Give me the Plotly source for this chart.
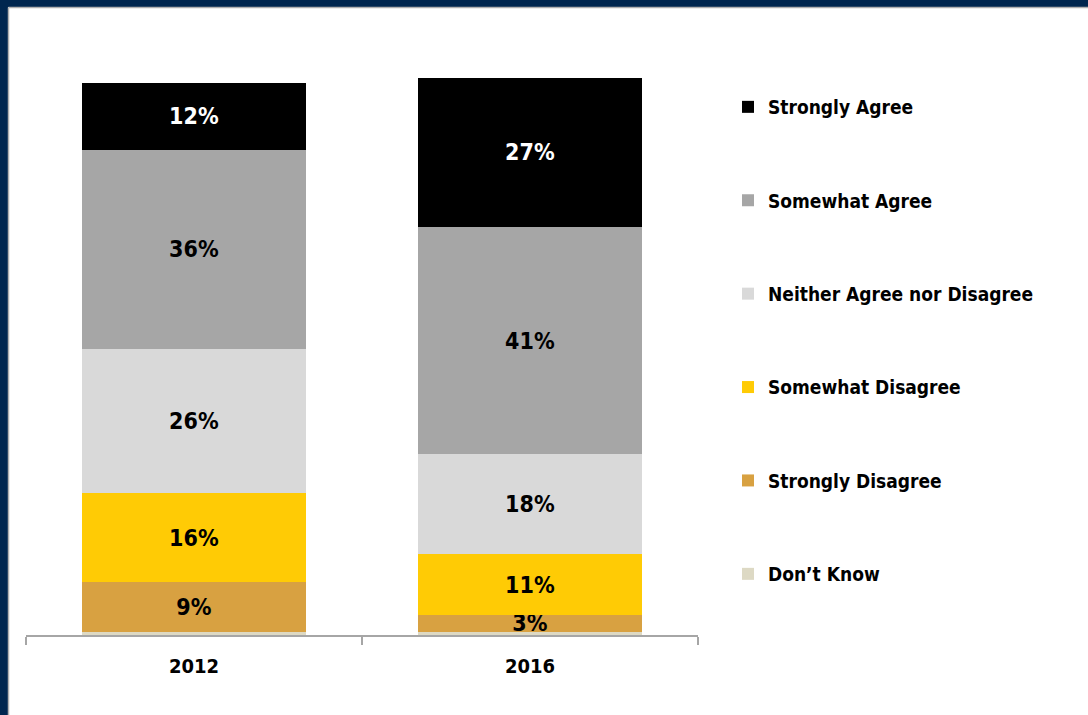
import plotly.graph_objects as go

years = ["2012", "2016"]
categories = ["Don't Know", "Strongly Disagree", "Somewhat Disagree",
              "Neither Agree nor Disagree", "Somewhat Agree", "Strongly Agree"]
values = {
    "Don't Know": [0.6, 0.6],
    "Strongly Disagree": [9, 3],
    "Somewhat Disagree": [16, 11],
    "Neither Agree nor Disagree": [26, 18],
    "Somewhat Agree": [36, 41],
    "Strongly Agree": [12, 27],
}
labels = {
    "Don't Know": ["", ""],
    "Strongly Disagree": ["9%", "3%"],
    "Somewhat Disagree": ["16%", "11%"],
    "Neither Agree nor Disagree": ["26%", "18%"],
    "Somewhat Agree": ["36%", "41%"],
    "Strongly Agree": ["12%", "27%"],
}
colors = {
    "Don't Know": "#DDD9C4",
    "Strongly Disagree": "#D8A141",
    "Somewhat Disagree": "#FFCB05",
    "Neither Agree nor Disagree": "#D9D9D9",
    "Somewhat Agree": "#A6A6A6",
    "Strongly Agree": "#000000",
}
legend_names = {"Don't Know": "Don\u2019t Know"}

FONT = "DejaVu Sans Condensed, Liberation Sans Narrow, Roboto Condensed, sans-serif"

W, H = 1088, 715
ML, MR, MT, MB = 26, 390, 60, 80
PW, PH = W - ML - MR, H - MT - MB
PX_PER_PCT = 5.54
YMAX = PH / PX_PER_PCT

fig = go.Figure()
n = len(categories)
for i, cat in enumerate(categories):
    fig.add_trace(go.Bar(
        x=years, y=values[cat], name=legend_names.get(cat, cat),
        legendgroup=cat, legendrank=n - i,
        marker=dict(color=colors[cat], line=dict(width=0)),
        text=labels[cat], textposition="inside", insidetextanchor="middle",
        constraintext="none",
        textfont=dict(family=FONT, size=23, weight="bold",
                      color="white" if cat == "Strongly Agree" else "black"),
        hoverinfo="skip",
    ))


def px_x(p):
    return (p - ML) / PW


def px_y(p):
    return (H - MB - p) / PH


shapes = [
    dict(type="rect", xref="paper", yref="paper", x0=px_x(0), x1=px_x(W),
         y0=px_y(7), y1=px_y(0), fillcolor="#00264F", line=dict(width=0), layer="above"),
    dict(type="rect", xref="paper", yref="paper", x0=px_x(0), x1=px_x(8),
         y0=px_y(H), y1=px_y(0), fillcolor="#00264F", line=dict(width=0), layer="above"),
    dict(type="line", xref="paper", yref="paper", x0=px_x(8.5), x1=px_x(W),
         y0=px_y(7.5), y1=px_y(7.5), line=dict(color="#B0B0B0", width=1.5)),
    dict(type="line", xref="paper", yref="paper", x0=px_x(8.5), x1=px_x(8.5),
         y0=px_y(H), y1=px_y(7.5), line=dict(color="#B0B0B0", width=1.5)),
]

fig.update_layout(
    width=W, height=H,
    margin=dict(l=ML, r=MR, t=MT, b=MB, pad=0),
    paper_bgcolor="white", plot_bgcolor="white",
    barmode="stack", bargap=0.336,
    shapes=shapes,
    font=dict(family=FONT, color="black"),
    legend=dict(
        x=px_x(728), y=px_y(88), xanchor="left", yanchor="top",
        traceorder="grouped", tracegroupgap=65.7,
        font=dict(family=FONT, size=19, weight="bold", color="black"),
        itemclick=False, itemdoubleclick=False,
        bgcolor="rgba(0,0,0,0)",
    ),
    xaxis=dict(
        type="category", range=[-0.5, 1.5],
        showline=True, linecolor="#A6A6A6", linewidth=1.5,
        ticks="outside", tickson="boundaries", ticklen=8, tickcolor="#A6A6A6",
        tickwidth=1.5, ticklabelstandoff=12,
        tickfont=dict(family=FONT, size=20, weight="bold", color="black"),
        showgrid=False, zeroline=False, fixedrange=True,
    ),
    yaxis=dict(range=[0, YMAX], visible=False, fixedrange=True),
    showlegend=True,
)

fig.write_html(
    "out.html",
    config={"displayModeBar": False},
    post_script="document.body.style.margin='0';document.body.style.overflow='hidden';",
)
